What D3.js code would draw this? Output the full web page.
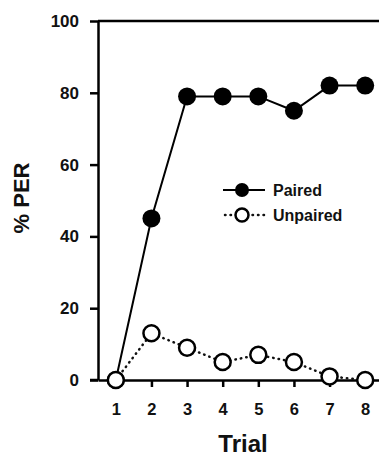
<!DOCTYPE html>
<html>
<head>
<meta charset="utf-8">
<script src="https://cdn.jsdelivr.net/npm/d3@7"></script>
<style>
body { margin: 0; background: #fff; }
text { font-family: "Liberation Sans", Arial, sans-serif; font-weight: bold; }
</style>
</head>
<body>
<script>
var trials = [1, 2, 3, 4, 5, 6, 7, 8];
var paired = [0, 45, 79, 79, 79, 75, 82, 82];
var unpaired = [0, 13, 9, 5, 7, 5, 1, 0];
var yTicks = [0, 20, 40, 60, 80, 100];

var width = 379, height = 458;

var svg = d3.select("body").append("svg")
    .attr("width", width)
    .attr("height", height);

var x = d3.scaleLinear().domain([0.5, 8.5]).range([98, 383]);
var y = d3.scaleLinear().domain([0, 100]).range([380, 21]);

// y axis
var yAxis = svg.append("g")
    .attr("transform", "translate(98,0)")
    .call(d3.axisLeft(y).tickValues(yTicks).tickSize(8).tickPadding(11).tickSizeOuter(0));
yAxis.select(".domain").attr("stroke-width", 2.5);
yAxis.selectAll(".tick line").attr("stroke-width", 2.5);
yAxis.selectAll(".tick text").attr("font-size", 17).attr("fill", "#111");

// x axis
var xAxis = svg.append("g")
    .attr("transform", "translate(0,380)")
    .call(d3.axisBottom(x).tickValues(trials).tickSize(7).tickPadding(16).tickSizeOuter(0));
xAxis.select(".domain").attr("stroke-width", 2.5);
xAxis.selectAll(".tick line").attr("stroke-width", 2.5);
xAxis.selectAll(".tick text").attr("font-size", 16.5).attr("fill", "#111");
// extend axis line left under the 0 tick
svg.append("line")
    .attr("x1", 90).attr("x2", 98)
    .attr("y1", y(0)).attr("y2", y(0))
    .attr("stroke", "#000").attr("stroke-width", 2.5);

// top frame line
svg.append("line")
    .attr("x1", 98).attr("x2", width)
    .attr("y1", y(100)).attr("y2", y(100))
    .attr("stroke", "#000").attr("stroke-width", 2.5);

// axis titles
svg.append("text")
    .attr("x", 243).attr("y", 452)
    .attr("text-anchor", "middle")
    .attr("font-size", 24)
    .attr("fill", "#111")
    .text("Trial");
svg.append("text")
    .attr("transform", "translate(29,198) rotate(-90)")
    .attr("text-anchor", "middle")
    .attr("font-size", 22)
    .attr("fill", "#111")
    .text("% PER");

var line = d3.line().x(function(d, i) { return x(trials[i]); }).y(function(d) { return y(d); });

// unpaired series (dotted, open markers)
svg.append("path")
    .datum(unpaired)
    .attr("d", line)
    .attr("fill", "none")
    .attr("stroke", "#111")
    .attr("stroke-width", 2.5)
    .attr("stroke-linecap", "round")
    .attr("stroke-dasharray", "0.5,5");

// paired series (solid, filled markers)
svg.append("path")
    .datum(paired)
    .attr("d", line)
    .attr("fill", "none")
    .attr("stroke", "#000")
    .attr("stroke-width", 2);

svg.selectAll(".pair")
    .data(paired)
    .enter()
    .append("circle")
    .attr("class", "pair")
    .attr("cx", function(d, i) { return x(trials[i]); })
    .attr("cy", function(d) { return y(d); })
    .attr("r", 9)
    .attr("fill", "#000");

svg.selectAll(".unp")
    .data(unpaired)
    .enter()
    .append("circle")
    .attr("class", "unp")
    .attr("cx", function(d, i) { return x(trials[i]); })
    .attr("cy", function(d) { return y(d); })
    .attr("r", 8)
    .attr("fill", "#fff")
    .attr("stroke", "#000")
    .attr("stroke-width", 2.5);

// legend
var legend = svg.append("g").attr("transform", "translate(223,190)");
legend.append("line").attr("x1", 0).attr("x2", 42).attr("y1", 0).attr("y2", 0)
    .attr("stroke", "#000").attr("stroke-width", 2);
legend.append("circle").attr("cx", 19).attr("cy", 0).attr("r", 7).attr("fill", "#000");
legend.append("text").attr("x", 50).attr("y", 5.5).attr("font-size", 16).attr("fill", "#111").text("Paired");

legend.append("line").attr("x1", 2).attr("x2", 42).attr("y1", 25).attr("y2", 25)
    .attr("stroke", "#111").attr("stroke-width", 2.5)
    .attr("stroke-linecap", "round").attr("stroke-dasharray", "0.5,5");
legend.append("circle").attr("cx", 19).attr("cy", 25).attr("r", 6.5)
    .attr("fill", "#fff").attr("stroke", "#000").attr("stroke-width", 2.5);
legend.append("text").attr("x", 50).attr("y", 30.5).attr("font-size", 16).attr("fill", "#111").text("Unpaired");
</script>
</body>
</html>
